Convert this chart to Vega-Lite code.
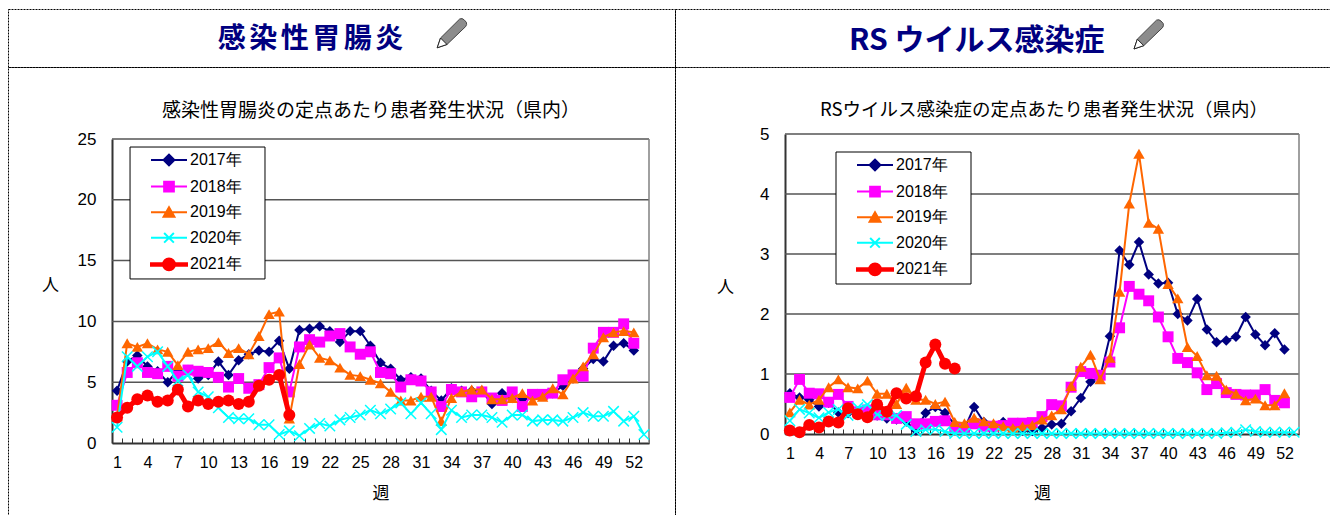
{"$schema":"https://vega.github.io/schema/vega-lite/v6.json","padding":{"left":7,"top":8,"right":0,"bottom":0},"background":"white","bounds":"flush","spacing":0,"columns":2,
"config":{"view":{"stroke":"#000","strokeDash":[2,1],"strokeWidth":1},"font":"Liberation Sans"},
"resolve":{"scale":{"color":"independent"}},
"datasets":{
"g":[
{"w":1,"s":"2017年","v":4.3},{"w":2,"s":"2017年","v":6.7},{"w":3,"s":"2017年","v":7.2},{"w":4,"s":"2017年","v":6.3},{"w":5,"s":"2017年","v":5.9},{"w":6,"s":"2017年","v":5.0},{"w":7,"s":"2017年","v":6.0},{"w":8,"s":"2017年","v":6.0},{"w":9,"s":"2017年","v":5.3},{"w":10,"s":"2017年","v":5.6},{"w":11,"s":"2017年","v":6.7},{"w":12,"s":"2017年","v":5.6},{"w":13,"s":"2017年","v":6.8},{"w":14,"s":"2017年","v":7.3},{"w":15,"s":"2017年","v":7.6},{"w":16,"s":"2017年","v":7.5},{"w":17,"s":"2017年","v":8.4},{"w":18,"s":"2017年","v":6.1},{"w":19,"s":"2017年","v":9.3},{"w":20,"s":"2017年","v":9.4},{"w":21,"s":"2017年","v":9.6},{"w":22,"s":"2017年","v":9.2},{"w":23,"s":"2017年","v":8.3},{"w":24,"s":"2017年","v":9.2},{"w":25,"s":"2017年","v":9.2},{"w":26,"s":"2017年","v":8.0},{"w":27,"s":"2017年","v":6.6},{"w":28,"s":"2017年","v":6.1},{"w":29,"s":"2017年","v":5.2},{"w":30,"s":"2017年","v":5.4},{"w":31,"s":"2017年","v":5.3},{"w":32,"s":"2017年","v":4.3},{"w":33,"s":"2017年","v":3.5},{"w":34,"s":"2017年","v":4.5},{"w":35,"s":"2017年","v":4.3},{"w":36,"s":"2017年","v":4.3},{"w":37,"s":"2017年","v":4.3},{"w":38,"s":"2017年","v":3.2},{"w":39,"s":"2017年","v":4.1},{"w":40,"s":"2017年","v":3.7},{"w":41,"s":"2017年","v":3.6},{"w":42,"s":"2017年","v":3.9},{"w":43,"s":"2017年","v":3.9},{"w":44,"s":"2017年","v":4.1},{"w":45,"s":"2017年","v":4.7},{"w":46,"s":"2017年","v":5.3},{"w":47,"s":"2017年","v":6.1},{"w":48,"s":"2017年","v":6.9},{"w":49,"s":"2017年","v":6.7},{"w":50,"s":"2017年","v":8.0},{"w":51,"s":"2017年","v":8.2},{"w":52,"s":"2017年","v":7.6},
{"w":1,"s":"2018年","v":3.1},{"w":2,"s":"2018年","v":5.8},{"w":3,"s":"2018年","v":6.6},{"w":4,"s":"2018年","v":5.8},{"w":5,"s":"2018年","v":5.7},{"w":6,"s":"2018年","v":6.3},{"w":7,"s":"2018年","v":5.5},{"w":8,"s":"2018年","v":6.0},{"w":9,"s":"2018年","v":5.9},{"w":10,"s":"2018年","v":5.8},{"w":11,"s":"2018年","v":5.4},{"w":12,"s":"2018年","v":4.6},{"w":13,"s":"2018年","v":5.3},{"w":14,"s":"2018年","v":4.5},{"w":15,"s":"2018年","v":4.8},{"w":16,"s":"2018年","v":6.2},{"w":17,"s":"2018年","v":7.0},{"w":18,"s":"2018年","v":4.2},{"w":19,"s":"2018年","v":7.9},{"w":20,"s":"2018年","v":8.5},{"w":21,"s":"2018年","v":8.3},{"w":22,"s":"2018年","v":8.8},{"w":23,"s":"2018年","v":9.0},{"w":24,"s":"2018年","v":7.9},{"w":25,"s":"2018年","v":7.3},{"w":26,"s":"2018年","v":7.5},{"w":27,"s":"2018年","v":5.8},{"w":28,"s":"2018年","v":5.7},{"w":29,"s":"2018年","v":4.6},{"w":30,"s":"2018年","v":5.2},{"w":31,"s":"2018年","v":5.1},{"w":32,"s":"2018年","v":4.2},{"w":33,"s":"2018年","v":3.0},{"w":34,"s":"2018年","v":4.4},{"w":35,"s":"2018年","v":4.2},{"w":36,"s":"2018年","v":3.8},{"w":37,"s":"2018年","v":4.2},{"w":38,"s":"2018年","v":3.7},{"w":39,"s":"2018年","v":3.5},{"w":40,"s":"2018年","v":4.2},{"w":41,"s":"2018年","v":3.0},{"w":42,"s":"2018年","v":4.0},{"w":43,"s":"2018年","v":4.0},{"w":44,"s":"2018年","v":4.1},{"w":45,"s":"2018年","v":5.2},{"w":46,"s":"2018年","v":5.6},{"w":47,"s":"2018年","v":5.5},{"w":48,"s":"2018年","v":7.8},{"w":49,"s":"2018年","v":9.1},{"w":50,"s":"2018年","v":9.1},{"w":51,"s":"2018年","v":9.8},{"w":52,"s":"2018年","v":8.2},
{"w":1,"s":"2019年","v":2.2},{"w":2,"s":"2019年","v":8.2},{"w":3,"s":"2019年","v":7.9},{"w":4,"s":"2019年","v":8.2},{"w":5,"s":"2019年","v":7.7},{"w":6,"s":"2019年","v":7.5},{"w":7,"s":"2019年","v":6.4},{"w":8,"s":"2019年","v":7.5},{"w":9,"s":"2019年","v":7.7},{"w":10,"s":"2019年","v":7.8},{"w":11,"s":"2019年","v":8.3},{"w":12,"s":"2019年","v":7.4},{"w":13,"s":"2019年","v":7.8},{"w":14,"s":"2019年","v":7.3},{"w":15,"s":"2019年","v":8.8},{"w":16,"s":"2019年","v":10.6},{"w":17,"s":"2019年","v":10.8},{"w":18,"s":"2019年","v":2.0},{"w":19,"s":"2019年","v":6.5},{"w":20,"s":"2019年","v":8.1},{"w":21,"s":"2019年","v":7.0},{"w":22,"s":"2019年","v":6.8},{"w":23,"s":"2019年","v":6.2},{"w":24,"s":"2019年","v":5.6},{"w":25,"s":"2019年","v":5.5},{"w":26,"s":"2019年","v":5.2},{"w":27,"s":"2019年","v":4.9},{"w":28,"s":"2019年","v":4.2},{"w":29,"s":"2019年","v":3.5},{"w":30,"s":"2019年","v":3.5},{"w":31,"s":"2019年","v":3.8},{"w":32,"s":"2019年","v":3.8},{"w":33,"s":"2019年","v":1.8},{"w":34,"s":"2019年","v":3.7},{"w":35,"s":"2019年","v":4.2},{"w":36,"s":"2019年","v":4.4},{"w":37,"s":"2019年","v":4.4},{"w":38,"s":"2019年","v":3.6},{"w":39,"s":"2019年","v":3.6},{"w":40,"s":"2019年","v":3.7},{"w":41,"s":"2019年","v":4.1},{"w":42,"s":"2019年","v":3.5},{"w":43,"s":"2019年","v":3.8},{"w":44,"s":"2019年","v":4.5},{"w":45,"s":"2019年","v":4.0},{"w":46,"s":"2019年","v":5.3},{"w":47,"s":"2019年","v":6.3},{"w":48,"s":"2019年","v":7.3},{"w":49,"s":"2019年","v":8.7},{"w":50,"s":"2019年","v":9.1},{"w":51,"s":"2019年","v":9.2},{"w":52,"s":"2019年","v":9.1},
{"w":1,"s":"2020年","v":1.3},{"w":2,"s":"2020年","v":7.1},{"w":3,"s":"2020年","v":6.3},{"w":4,"s":"2020年","v":7.1},{"w":5,"s":"2020年","v":7.5},{"w":6,"s":"2020年","v":6.3},{"w":7,"s":"2020年","v":5.1},{"w":8,"s":"2020年","v":5.6},{"w":9,"s":"2020年","v":4.2},{"w":10,"s":"2020年","v":3.8},{"w":11,"s":"2020年","v":2.9},{"w":12,"s":"2020年","v":2.1},{"w":13,"s":"2020年","v":2.0},{"w":14,"s":"2020年","v":2.0},{"w":15,"s":"2020年","v":1.5},{"w":16,"s":"2020年","v":1.5},{"w":17,"s":"2020年","v":0.7},{"w":18,"s":"2020年","v":1.0},{"w":19,"s":"2020年","v":0.6},{"w":20,"s":"2020年","v":1.2},{"w":21,"s":"2020年","v":1.6},{"w":22,"s":"2020年","v":1.4},{"w":23,"s":"2020年","v":1.9},{"w":24,"s":"2020年","v":2.1},{"w":25,"s":"2020年","v":2.3},{"w":26,"s":"2020年","v":2.7},{"w":27,"s":"2020年","v":2.4},{"w":28,"s":"2020年","v":2.8},{"w":29,"s":"2020年","v":3.3},{"w":30,"s":"2020年","v":2.4},{"w":31,"s":"2020年","v":3.3},{"w":32,"s":"2020年","v":2.4},{"w":33,"s":"2020年","v":1.1},{"w":34,"s":"2020年","v":2.7},{"w":35,"s":"2020年","v":2.1},{"w":36,"s":"2020年","v":2.3},{"w":37,"s":"2020年","v":2.3},{"w":38,"s":"2020年","v":2.1},{"w":39,"s":"2020年","v":1.7},{"w":40,"s":"2020年","v":2.3},{"w":41,"s":"2020年","v":2.3},{"w":42,"s":"2020年","v":1.8},{"w":43,"s":"2020年","v":1.9},{"w":44,"s":"2020年","v":1.9},{"w":45,"s":"2020年","v":1.8},{"w":46,"s":"2020年","v":2.1},{"w":47,"s":"2020年","v":2.5},{"w":48,"s":"2020年","v":2.2},{"w":49,"s":"2020年","v":2.2},{"w":50,"s":"2020年","v":2.6},{"w":51,"s":"2020年","v":1.8},{"w":52,"s":"2020年","v":2.2},{"w":53,"s":"2020年","v":0.7},
{"w":1,"s":"2021年","v":2.1},{"w":2,"s":"2021年","v":2.9},{"w":3,"s":"2021年","v":3.6},{"w":4,"s":"2021年","v":3.9},{"w":5,"s":"2021年","v":3.4},{"w":6,"s":"2021年","v":3.5},{"w":7,"s":"2021年","v":4.4},{"w":8,"s":"2021年","v":3.0},{"w":9,"s":"2021年","v":3.5},{"w":10,"s":"2021年","v":3.2},{"w":11,"s":"2021年","v":3.4},{"w":12,"s":"2021年","v":3.5},{"w":13,"s":"2021年","v":3.2},{"w":14,"s":"2021年","v":3.4},{"w":15,"s":"2021年","v":4.7},{"w":16,"s":"2021年","v":5.2},{"w":17,"s":"2021年","v":5.6},{"w":18,"s":"2021年","v":2.3}
],
"r":[
{"w":1,"s":"2017年","v":0.68},{"w":2,"s":"2017年","v":0.61},{"w":3,"s":"2017年","v":0.57},{"w":4,"s":"2017年","v":0.46},{"w":5,"s":"2017年","v":0.52},{"w":6,"s":"2017年","v":0.36},{"w":7,"s":"2017年","v":0.35},{"w":8,"s":"2017年","v":0.35},{"w":9,"s":"2017年","v":0.35},{"w":10,"s":"2017年","v":0.31},{"w":11,"s":"2017年","v":0.26},{"w":12,"s":"2017年","v":0.24},{"w":13,"s":"2017年","v":0.21},{"w":14,"s":"2017年","v":0.06},{"w":15,"s":"2017年","v":0.35},{"w":16,"s":"2017年","v":0.45},{"w":17,"s":"2017年","v":0.35},{"w":18,"s":"2017年","v":0.16},{"w":19,"s":"2017年","v":0.09},{"w":20,"s":"2017年","v":0.45},{"w":21,"s":"2017年","v":0.2},{"w":22,"s":"2017年","v":0.1},{"w":23,"s":"2017年","v":0.2},{"w":24,"s":"2017年","v":0.13},{"w":25,"s":"2017年","v":0.06},{"w":26,"s":"2017年","v":0.05},{"w":27,"s":"2017年","v":0.1},{"w":28,"s":"2017年","v":0.16},{"w":29,"s":"2017年","v":0.17},{"w":30,"s":"2017年","v":0.38},{"w":31,"s":"2017年","v":0.6},{"w":32,"s":"2017年","v":0.87},{"w":33,"s":"2017年","v":0.95},{"w":34,"s":"2017年","v":1.63},{"w":35,"s":"2017年","v":3.06},{"w":36,"s":"2017年","v":2.82},{"w":37,"s":"2017年","v":3.2},{"w":38,"s":"2017年","v":2.66},{"w":39,"s":"2017年","v":2.51},{"w":40,"s":"2017年","v":2.52},{"w":41,"s":"2017年","v":2.0},{"w":42,"s":"2017年","v":1.89},{"w":43,"s":"2017年","v":2.25},{"w":44,"s":"2017年","v":1.74},{"w":45,"s":"2017年","v":1.53},{"w":46,"s":"2017年","v":1.56},{"w":47,"s":"2017年","v":1.62},{"w":48,"s":"2017年","v":1.95},{"w":49,"s":"2017年","v":1.66},{"w":50,"s":"2017年","v":1.48},{"w":51,"s":"2017年","v":1.68},{"w":52,"s":"2017年","v":1.41},
{"w":1,"s":"2018年","v":0.61},{"w":2,"s":"2018年","v":0.91},{"w":3,"s":"2018年","v":0.68},{"w":4,"s":"2018年","v":0.67},{"w":5,"s":"2018年","v":0.53},{"w":6,"s":"2018年","v":0.66},{"w":7,"s":"2018年","v":0.46},{"w":8,"s":"2018年","v":0.37},{"w":9,"s":"2018年","v":0.4},{"w":10,"s":"2018年","v":0.32},{"w":11,"s":"2018年","v":0.32},{"w":12,"s":"2018年","v":0.26},{"w":13,"s":"2018年","v":0.29},{"w":14,"s":"2018年","v":0.17},{"w":15,"s":"2018年","v":0.17},{"w":16,"s":"2018年","v":0.21},{"w":17,"s":"2018年","v":0.22},{"w":18,"s":"2018年","v":0.11},{"w":19,"s":"2018年","v":0.09},{"w":20,"s":"2018年","v":0.17},{"w":21,"s":"2018年","v":0.13},{"w":22,"s":"2018年","v":0.13},{"w":23,"s":"2018年","v":0.14},{"w":24,"s":"2018年","v":0.18},{"w":25,"s":"2018年","v":0.18},{"w":26,"s":"2018年","v":0.19},{"w":27,"s":"2018年","v":0.29},{"w":28,"s":"2018年","v":0.49},{"w":29,"s":"2018年","v":0.47},{"w":30,"s":"2018年","v":0.78},{"w":31,"s":"2018年","v":1.04},{"w":32,"s":"2018年","v":1.01},{"w":33,"s":"2018年","v":0.98},{"w":34,"s":"2018年","v":1.2},{"w":35,"s":"2018年","v":1.77},{"w":36,"s":"2018年","v":2.46},{"w":37,"s":"2018年","v":2.33},{"w":38,"s":"2018年","v":2.22},{"w":39,"s":"2018年","v":1.95},{"w":40,"s":"2018年","v":1.62},{"w":41,"s":"2018年","v":1.26},{"w":42,"s":"2018年","v":1.19},{"w":43,"s":"2018年","v":1.02},{"w":44,"s":"2018年","v":0.74},{"w":45,"s":"2018年","v":0.84},{"w":46,"s":"2018年","v":0.69},{"w":47,"s":"2018年","v":0.66},{"w":48,"s":"2018年","v":0.65},{"w":49,"s":"2018年","v":0.65},{"w":50,"s":"2018年","v":0.74},{"w":51,"s":"2018年","v":0.56},{"w":52,"s":"2018年","v":0.52},
{"w":1,"s":"2019年","v":0.36},{"w":2,"s":"2019年","v":0.57},{"w":3,"s":"2019年","v":0.49},{"w":4,"s":"2019年","v":0.57},{"w":5,"s":"2019年","v":0.78},{"w":6,"s":"2019年","v":0.91},{"w":7,"s":"2019年","v":0.78},{"w":8,"s":"2019年","v":0.76},{"w":9,"s":"2019年","v":0.89},{"w":10,"s":"2019年","v":0.67},{"w":11,"s":"2019年","v":0.67},{"w":12,"s":"2019年","v":0.5},{"w":13,"s":"2019年","v":0.77},{"w":14,"s":"2019年","v":0.57},{"w":15,"s":"2019年","v":0.57},{"w":16,"s":"2019年","v":0.5},{"w":17,"s":"2019年","v":0.54},{"w":18,"s":"2019年","v":0.2},{"w":19,"s":"2019年","v":0.18},{"w":20,"s":"2019年","v":0.27},{"w":21,"s":"2019年","v":0.21},{"w":22,"s":"2019年","v":0.18},{"w":23,"s":"2019年","v":0.13},{"w":24,"s":"2019年","v":0.1},{"w":25,"s":"2019年","v":0.13},{"w":26,"s":"2019年","v":0.15},{"w":27,"s":"2019年","v":0.24},{"w":28,"s":"2019年","v":0.31},{"w":29,"s":"2019年","v":0.41},{"w":30,"s":"2019年","v":0.8},{"w":31,"s":"2019年","v":1.12},{"w":32,"s":"2019年","v":1.32},{"w":33,"s":"2019年","v":0.91},{"w":34,"s":"2019年","v":1.27},{"w":35,"s":"2019年","v":2.37},{"w":36,"s":"2019年","v":3.84},{"w":37,"s":"2019年","v":4.67},{"w":38,"s":"2019年","v":3.52},{"w":39,"s":"2019年","v":3.42},{"w":40,"s":"2019年","v":2.5},{"w":41,"s":"2019年","v":2.26},{"w":42,"s":"2019年","v":1.45},{"w":43,"s":"2019年","v":1.3},{"w":44,"s":"2019年","v":0.98},{"w":45,"s":"2019年","v":0.97},{"w":46,"s":"2019年","v":0.74},{"w":47,"s":"2019年","v":0.67},{"w":48,"s":"2019年","v":0.56},{"w":49,"s":"2019年","v":0.59},{"w":50,"s":"2019年","v":0.48},{"w":51,"s":"2019年","v":0.48},{"w":52,"s":"2019年","v":0.68},
{"w":1,"s":"2020年","v":0.22},{"w":2,"s":"2020年","v":0.41},{"w":3,"s":"2020年","v":0.35},{"w":4,"s":"2020年","v":0.27},{"w":5,"s":"2020年","v":0.36},{"w":6,"s":"2020年","v":0.41},{"w":7,"s":"2020年","v":0.31},{"w":8,"s":"2020年","v":0.44},{"w":9,"s":"2020年","v":0.49},{"w":10,"s":"2020年","v":0.32},{"w":11,"s":"2020年","v":0.31},{"w":12,"s":"2020年","v":0.31},{"w":13,"s":"2020年","v":0.16},{"w":14,"s":"2020年","v":0.04},{"w":15,"s":"2020年","v":0.07},{"w":16,"s":"2020年","v":0.08},{"w":17,"s":"2020年","v":0.04},{"w":18,"s":"2020年","v":0.01},{"w":19,"s":"2020年","v":0.01},{"w":20,"s":"2020年","v":0.01},{"w":21,"s":"2020年","v":0.01},{"w":22,"s":"2020年","v":0.01},{"w":23,"s":"2020年","v":0.01},{"w":24,"s":"2020年","v":0.01},{"w":25,"s":"2020年","v":0.01},{"w":26,"s":"2020年","v":0.01},{"w":27,"s":"2020年","v":0.01},{"w":28,"s":"2020年","v":0.01},{"w":29,"s":"2020年","v":0.01},{"w":30,"s":"2020年","v":0.01},{"w":31,"s":"2020年","v":0.01},{"w":32,"s":"2020年","v":0.01},{"w":33,"s":"2020年","v":0.01},{"w":34,"s":"2020年","v":0.01},{"w":35,"s":"2020年","v":0.01},{"w":36,"s":"2020年","v":0.01},{"w":37,"s":"2020年","v":0.01},{"w":38,"s":"2020年","v":0.01},{"w":39,"s":"2020年","v":0.01},{"w":40,"s":"2020年","v":0.01},{"w":41,"s":"2020年","v":0.01},{"w":42,"s":"2020年","v":0.01},{"w":43,"s":"2020年","v":0.01},{"w":44,"s":"2020年","v":0.01},{"w":45,"s":"2020年","v":0.01},{"w":46,"s":"2020年","v":0.02},{"w":47,"s":"2020年","v":0.03},{"w":48,"s":"2020年","v":0.07},{"w":49,"s":"2020年","v":0.04},{"w":50,"s":"2020年","v":0.03},{"w":51,"s":"2020年","v":0.03},{"w":52,"s":"2020年","v":0.03},{"w":53,"s":"2020年","v":0.03},
{"w":1,"s":"2021年","v":0.06},{"w":2,"s":"2021年","v":0.03},{"w":3,"s":"2021年","v":0.15},{"w":4,"s":"2021年","v":0.11},{"w":5,"s":"2021年","v":0.21},{"w":6,"s":"2021年","v":0.19},{"w":7,"s":"2021年","v":0.43},{"w":8,"s":"2021年","v":0.33},{"w":9,"s":"2021年","v":0.28},{"w":10,"s":"2021年","v":0.49},{"w":11,"s":"2021年","v":0.37},{"w":12,"s":"2021年","v":0.68},{"w":13,"s":"2021年","v":0.59},{"w":14,"s":"2021年","v":0.63},{"w":15,"s":"2021年","v":1.19},{"w":16,"s":"2021年","v":1.49},{"w":17,"s":"2021年","v":1.17},{"w":18,"s":"2021年","v":1.09}
]},
"concat":[
{"width":667,"height":58,"layer":[
{"data":{"values":[{"t":"感\u200a\u200a染\u200a\u200a性\u200a\u200a胃\u200a\u200a腸\u200a\u200a炎"}]},"mark":{"type":"text","font":"Noto Sans CJK JP","fontSize":28,"fontWeight":"bold","color":"#000080"},"encoding":{"text":{"field":"t"},"x":{"datum":0.4535,"scale":{"domain":[0,1]},"axis":null},"y":{"datum":0.54,"scale":{"domain":[0,1],"reverse":true},"axis":null}}},
{"data":{"values":[{"i":"pencil"}]},"mark":{"type":"point","filled":true,"fill":"#8c8c8c","stroke":"#444","strokeWidth":1,"opacity":1,"size":900,"shape":"M-1,1L-0.78,0.35L0.5,-0.92Q0.66,-1 0.8,-0.86L0.94,-0.7Q1,-0.55 0.9,-0.42L-0.35,0.78Z"},"encoding":{"x":{"datum":0.666},"y":{"datum":0.41}}},
{"data":{"values":[{"i":"tip"}]},"mark":{"type":"point","filled":true,"fill":"#fff","stroke":"#222","strokeWidth":1,"opacity":1,"size":900,"shape":"M-1,1L-0.78,0.35L-0.35,0.78Z"},"encoding":{"x":{"datum":0.666},"y":{"datum":0.41}}}
]},
{"width":656,"height":58,"layer":[
{"data":{"values":[{"t":"RS ウイルス感染症"}]},"mark":{"type":"text","font":"Noto Sans CJK JP","fontSize":30,"fontWeight":"bold","color":"#000080"},"encoding":{"text":{"field":"t"},"x":{"datum":0.46,"scale":{"domain":[0,1]},"axis":null},"y":{"datum":0.55,"scale":{"domain":[0,1],"reverse":true},"axis":null}}},
{"data":{"values":[{"i":"pencil"}]},"mark":{"type":"point","filled":true,"fill":"#8c8c8c","stroke":"#444","strokeWidth":1,"opacity":1,"size":900,"shape":"M-1,1L-0.78,0.35L0.5,-0.92Q0.66,-1 0.8,-0.86L0.94,-0.7Q1,-0.55 0.9,-0.42L-0.35,0.78Z"},"encoding":{"x":{"datum":0.7226},"y":{"datum":0.43}}},
{"data":{"values":[{"i":"tip"}]},"mark":{"type":"point","filled":true,"fill":"#fff","stroke":"#222","strokeWidth":1,"opacity":1,"size":900,"shape":"M-1,1L-0.78,0.35L-0.35,0.78Z"},"encoding":{"x":{"datum":0.7226},"y":{"datum":0.43}}}
]},
{"width":667,"height":449,"data":{"name":"g"},
"layer":[
{"data":{"values":[{"g":5},{"g":10},{"g":15},{"g":20},{"g":25}]},"mark":{"type":"rule","color":"#555","strokeWidth":1.5},"encoding":{
"x":{"datum":0.5,"type":"quantitative","scale":{"domain":[0.5,53.5],"nice":false,"zero":false,"range":[104,641]},"axis":{"title":"週","titleFontSize":17,"titleFont":"Noto Sans CJK JP","titleFontWeight":"normal","titleColor":"#000","titleY":42,"offset":-73,"domain":true,"domainColor":"#333","domainWidth":2,"ticks":true,"tickWidth":1,"tickColor":"#333","tickSize":-5,"grid":false,"values":[0.5,1.5,2.5,3.5,4.5,5.5,6.5,7.5,8.5,9.5,10.5,11.5,12.5,13.5,14.5,15.5,16.5,17.5,18.5,19.5,20.5,21.5,22.5,23.5,24.5,25.5,26.5,27.5,28.5,29.5,30.5,31.5,32.5,33.5,34.5,35.5,36.5,37.5,38.5,39.5,40.5,41.5,42.5,43.5,44.5,45.5,46.5,47.5,48.5,49.5,50.5,51.5,52.5,53.5],"labelExpr":"((datum.value-0.5)%3==0) ? (datum.value+0.5) : ''","labelOffset":5,"labelOverlap":false,"labelFontSize":16,"labelColor":"#000","labelPadding":16,"labelBound":false,"labelFlush":false}},
"x2":{"datum":53.5},
"y":{"field":"g","type":"quantitative","scale":{"domain":[0,25],"nice":false,"range":[376,72]},"axis":{"title":"人","titleAngle":0,"titleFontSize":17,"titleFont":"Noto Sans CJK JP","titleFontWeight":"normal","titleColor":"#000","titleX":-62,"titleY":227,"offset":-104,"domain":true,"domainColor":"#333","domainWidth":2,"ticks":false,"grid":false,"values":[0,5,10,15,20,25],"labelFontSize":17,"labelColor":"#000","labelPadding":16,"format":"d"}}}},
{"data":{"values":[{"f":"right"}]},"mark":{"type":"rule","color":"#808080","strokeWidth":1.5},"encoding":{
"x":{"datum":53.5,"type":"quantitative","axis":{"title":"週","titleFontSize":17,"titleFont":"Noto Sans CJK JP","titleFontWeight":"normal","titleColor":"#000","titleY":42,"offset":-73,"domain":true,"domainColor":"#333","domainWidth":2,"ticks":true,"tickWidth":1,"tickColor":"#333","tickSize":-5,"grid":false,"values":[0.5,1.5,2.5,3.5,4.5,5.5,6.5,7.5,8.5,9.5,10.5,11.5,12.5,13.5,14.5,15.5,16.5,17.5,18.5,19.5,20.5,21.5,22.5,23.5,24.5,25.5,26.5,27.5,28.5,29.5,30.5,31.5,32.5,33.5,34.5,35.5,36.5,37.5,38.5,39.5,40.5,41.5,42.5,43.5,44.5,45.5,46.5,47.5,48.5,49.5,50.5,51.5,52.5,53.5],"labelExpr":"((datum.value-0.5)%3==0) ? (datum.value+0.5) : ''","labelOffset":5,"labelOverlap":false,"labelFontSize":16,"labelColor":"#000","labelPadding":16,"labelBound":false,"labelFlush":false}},
"y":{"datum":0,"type":"quantitative","axis":{"title":"人","titleAngle":0,"titleFontSize":17,"titleFont":"Noto Sans CJK JP","titleFontWeight":"normal","titleColor":"#000","titleX":-62,"titleY":227,"offset":-104,"domain":true,"domainColor":"#333","domainWidth":2,"ticks":false,"grid":false,"values":[0,5,10,15,20,25],"labelFontSize":17,"labelColor":"#000","labelPadding":16,"format":"d"}},"y2":{"datum":25}}},
{"data":{"values":[{"t":"感染性胃腸炎の定点あたり患者発生状況（県内）"}]},"mark":{"type":"text","font":"Noto Sans CJK JP","fontSize":19,"color":"#000"},"encoding":{"text":{"field":"t"},
"x":{"datum":26.07,"type":"quantitative","axis":{"title":"週","titleFontSize":17,"titleFont":"Noto Sans CJK JP","titleFontWeight":"normal","titleColor":"#000","titleY":42,"offset":-73,"domain":true,"domainColor":"#333","domainWidth":2,"ticks":true,"tickWidth":1,"tickColor":"#333","tickSize":-5,"grid":false,"values":[0.5,1.5,2.5,3.5,4.5,5.5,6.5,7.5,8.5,9.5,10.5,11.5,12.5,13.5,14.5,15.5,16.5,17.5,18.5,19.5,20.5,21.5,22.5,23.5,24.5,25.5,26.5,27.5,28.5,29.5,30.5,31.5,32.5,33.5,34.5,35.5,36.5,37.5,38.5,39.5,40.5,41.5,42.5,43.5,44.5,45.5,46.5,47.5,48.5,49.5,50.5,51.5,52.5,53.5],"labelExpr":"((datum.value-0.5)%3==0) ? (datum.value+0.5) : ''","labelOffset":5,"labelOverlap":false,"labelFontSize":16,"labelColor":"#000","labelPadding":16,"labelBound":false,"labelFlush":false}},
"y":{"datum":27.3,"type":"quantitative","axis":{"title":"人","titleAngle":0,"titleFontSize":17,"titleFont":"Noto Sans CJK JP","titleFontWeight":"normal","titleColor":"#000","titleX":-62,"titleY":227,"offset":-104,"domain":true,"domainColor":"#333","domainWidth":2,"ticks":false,"grid":false,"values":[0,5,10,15,20,25],"labelFontSize":17,"labelColor":"#000","labelPadding":16,"format":"d"}}}},
{"encoding":{
"x":{"field":"w","type":"quantitative","axis":{"title":"週","titleFontSize":17,"titleFont":"Noto Sans CJK JP","titleFontWeight":"normal","titleColor":"#000","titleY":42,"offset":-73,"domain":true,"domainColor":"#333","domainWidth":2,"ticks":true,"tickWidth":1,"tickColor":"#333","tickSize":-5,"grid":false,"values":[0.5,1.5,2.5,3.5,4.5,5.5,6.5,7.5,8.5,9.5,10.5,11.5,12.5,13.5,14.5,15.5,16.5,17.5,18.5,19.5,20.5,21.5,22.5,23.5,24.5,25.5,26.5,27.5,28.5,29.5,30.5,31.5,32.5,33.5,34.5,35.5,36.5,37.5,38.5,39.5,40.5,41.5,42.5,43.5,44.5,45.5,46.5,47.5,48.5,49.5,50.5,51.5,52.5,53.5],"labelExpr":"((datum.value-0.5)%3==0) ? (datum.value+0.5) : ''","labelOffset":5,"labelOverlap":false,"labelFontSize":16,"labelColor":"#000","labelPadding":16,"labelBound":false,"labelFlush":false}},
"y":{"field":"v","type":"quantitative","axis":{"title":"人","titleAngle":0,"titleFontSize":17,"titleFont":"Noto Sans CJK JP","titleFontWeight":"normal","titleColor":"#000","titleX":-62,"titleY":227,"offset":-104,"domain":true,"domainColor":"#333","domainWidth":2,"ticks":false,"grid":false,"values":[0,5,10,15,20,25],"labelFontSize":17,"labelColor":"#000","labelPadding":16,"format":"d"}}
},"layer":[
{"transform":[{"filter":"datum.s=='2017年'"}],"encoding":{
"color":{"field":"s","type":"nominal","scale":{"domain":["2017年","2018年","2019年","2020年","2021年"],"range":["#000080","#FF00FF","#FF6600","#00FFFF","#FF0000"]},"legend":{"orient":"none","legendX":122,"legendY":80,"title":null,"padding":5,"rowPadding":7.6,"labelFontSize":16,"labelColor":"#000","symbolSize":100,"symbolOffset":26,"labelOffset":13,"encode":{"symbols":{"update":{"size":{"value":1296},"shape":{"signal":"datum.value=='2017年'?'M-1,0H1M-.3,0L0,-.3L.3,0L0,.3Z':datum.value=='2018年'?'M-1,0H1M-.27,-.27H.27V.27H-.27Z':datum.value=='2019年'?'M-1,0H1M-.3,.25L0,-.27L.3,.25Z':datum.value=='2020年'?'M-1,0H1M-.27,-.27L.27,.27M-.27,.27L.27,-.27':'M-1,-.07H1V.07H-1ZM-.33,0A.33,.33 0 1,1 .33,0A.33,.33 0 1,1 -.33,0Z'"},"fill":{"signal":"datum.value=='2017年'?'#000080':datum.value=='2018年'?'#FF00FF':datum.value=='2019年'?'#FF6600':datum.value=='2020年'?'#00FFFF':'#FF0000'"},"stroke":{"signal":"datum.value=='2017年'?'#000080':datum.value=='2018年'?'#FF00FF':datum.value=='2019年'?'#FF6600':datum.value=='2020年'?'#00FFFF':'#FF0000'"},"strokeWidth":{"signal":"datum.value=='2021年'?2:2"},"opacity":{"value":1}}}}}}},"layer":[{"mark":{"type":"line","strokeWidth":2}},{"mark":{"type":"point","shape":"diamond","filled":true,"size":110,"opacity":1}}]},
{"transform":[{"filter":"datum.s=='2018年'"}],"encoding":{"color":{"field":"s","type":"nominal"}},"layer":[{"mark":{"type":"line","strokeWidth":2}},{"mark":{"type":"point","shape":"square","filled":true,"size":120,"opacity":1}}]},
{"transform":[{"filter":"datum.s=='2019年'"}],"encoding":{"color":{"field":"s","type":"nominal"}},"layer":[{"mark":{"type":"line","strokeWidth":2}},{"mark":{"type":"point","shape":"triangle-up","filled":true,"size":130,"opacity":1}}]},
{"transform":[{"filter":"datum.s=='2020年'"}],"encoding":{"color":{"field":"s","type":"nominal"}},"layer":[{"mark":{"type":"line","strokeWidth":2}},{"mark":{"type":"point","shape":"M-1,-1L1,1M-1,1L1,-1","filled":true,"stroke":"#00FFFF","strokeWidth":1.5,"size":110,"opacity":1}}]},
{"transform":[{"filter":"datum.s=='2021年'"}],"encoding":{"color":{"field":"s","type":"nominal"}},"layer":[{"mark":{"type":"line","strokeWidth":5,"strokeCap":"round"}},{"mark":{"type":"point","shape":"circle","filled":true,"size":144,"opacity":1}}]}
]},
{"data":{"values":[{"f":"legend box"}]},"mark":{"type":"rect","fill":"#fff","stroke":"#000","strokeWidth":1},"encoding":{
"x":{"datum":2.28,"type":"quantitative","axis":{"title":"週","titleFontSize":17,"titleFont":"Noto Sans CJK JP","titleFontWeight":"normal","titleColor":"#000","titleY":42,"offset":-73,"domain":true,"domainColor":"#333","domainWidth":2,"ticks":true,"tickWidth":1,"tickColor":"#333","tickSize":-5,"grid":false,"values":[0.5,1.5,2.5,3.5,4.5,5.5,6.5,7.5,8.5,9.5,10.5,11.5,12.5,13.5,14.5,15.5,16.5,17.5,18.5,19.5,20.5,21.5,22.5,23.5,24.5,25.5,26.5,27.5,28.5,29.5,30.5,31.5,32.5,33.5,34.5,35.5,36.5,37.5,38.5,39.5,40.5,41.5,42.5,43.5,44.5,45.5,46.5,47.5,48.5,49.5,50.5,51.5,52.5,53.5],"labelExpr":"((datum.value-0.5)%3==0) ? (datum.value+0.5) : ''","labelOffset":5,"labelOverlap":false,"labelFontSize":16,"labelColor":"#000","labelPadding":16,"labelBound":false,"labelFlush":false}},"x2":{"datum":15.6},
"y":{"datum":24.34,"type":"quantitative","axis":{"title":"人","titleAngle":0,"titleFontSize":17,"titleFont":"Noto Sans CJK JP","titleFontWeight":"normal","titleColor":"#000","titleX":-62,"titleY":227,"offset":-104,"domain":true,"domainColor":"#333","domainWidth":2,"ticks":false,"grid":false,"values":[0,5,10,15,20,25],"labelFontSize":17,"labelColor":"#000","labelPadding":16,"format":"d"}},"y2":{"datum":13.49}}}
]},
{"width":656,"height":449,"data":{"name":"r"},
"layer":[
{"data":{"values":[{"g":1},{"g":2},{"g":3},{"g":4},{"g":5}]},"mark":{"type":"rule","color":"#555","strokeWidth":1.5},"encoding":{
"x":{"datum":0.5,"type":"quantitative","scale":{"domain":[0.5,53.5],"nice":false,"zero":false,"range":[110,624]},"axis":{"title":"週","titleFontSize":17,"titleFont":"Noto Sans CJK JP","titleFontWeight":"normal","titleColor":"#000","titleY":51,"offset":-82,"domain":true,"domainColor":"#333","domainWidth":2,"ticks":true,"tickWidth":1,"tickColor":"#333","tickSize":-5,"grid":false,"values":[0.5,1.5,2.5,3.5,4.5,5.5,6.5,7.5,8.5,9.5,10.5,11.5,12.5,13.5,14.5,15.5,16.5,17.5,18.5,19.5,20.5,21.5,22.5,23.5,24.5,25.5,26.5,27.5,28.5,29.5,30.5,31.5,32.5,33.5,34.5,35.5,36.5,37.5,38.5,39.5,40.5,41.5,42.5,43.5,44.5,45.5,46.5,47.5,48.5,49.5,50.5,51.5,52.5,53.5],"labelExpr":"((datum.value-0.5)%3==0) ? (datum.value+0.5) : ''","labelOffset":5,"labelOverlap":false,"labelFontSize":16,"labelColor":"#000","labelPadding":16,"labelBound":false,"labelFlush":false}},
"x2":{"datum":53.5},
"y":{"field":"g","type":"quantitative","scale":{"domain":[0,5],"nice":false,"range":[367,67]},"axis":{"title":"人","titleAngle":0,"titleFontSize":17,"titleFont":"Noto Sans CJK JP","titleFontWeight":"normal","titleColor":"#000","titleX":-60,"titleY":229,"offset":-110,"domain":true,"domainColor":"#333","domainWidth":2,"ticks":false,"grid":false,"values":[0,1,2,3,4,5],"labelFontSize":17,"labelColor":"#000","labelPadding":16,"format":"d"}}}},
{"data":{"values":[{"f":"right"}]},"mark":{"type":"rule","color":"#808080","strokeWidth":1.5},"encoding":{
"x":{"datum":53.5,"type":"quantitative","axis":{"title":"週","titleFontSize":17,"titleFont":"Noto Sans CJK JP","titleFontWeight":"normal","titleColor":"#000","titleY":51,"offset":-82,"domain":true,"domainColor":"#333","domainWidth":2,"ticks":true,"tickWidth":1,"tickColor":"#333","tickSize":-5,"grid":false,"values":[0.5,1.5,2.5,3.5,4.5,5.5,6.5,7.5,8.5,9.5,10.5,11.5,12.5,13.5,14.5,15.5,16.5,17.5,18.5,19.5,20.5,21.5,22.5,23.5,24.5,25.5,26.5,27.5,28.5,29.5,30.5,31.5,32.5,33.5,34.5,35.5,36.5,37.5,38.5,39.5,40.5,41.5,42.5,43.5,44.5,45.5,46.5,47.5,48.5,49.5,50.5,51.5,52.5,53.5],"labelExpr":"((datum.value-0.5)%3==0) ? (datum.value+0.5) : ''","labelOffset":5,"labelOverlap":false,"labelFontSize":16,"labelColor":"#000","labelPadding":16,"labelBound":false,"labelFlush":false}},
"y":{"datum":0,"type":"quantitative","axis":{"title":"人","titleAngle":0,"titleFontSize":17,"titleFont":"Noto Sans CJK JP","titleFontWeight":"normal","titleColor":"#000","titleX":-60,"titleY":229,"offset":-110,"domain":true,"domainColor":"#333","domainWidth":2,"ticks":false,"grid":false,"values":[0,1,2,3,4,5],"labelFontSize":17,"labelColor":"#000","labelPadding":16,"format":"d"}},"y2":{"datum":5}}},
{"data":{"values":[{"t":"RSウイルス感染症の定点あたり患者発生状況（県内）"}]},"mark":{"type":"text","font":"Noto Sans CJK JP","fontSize":18.5,"color":"#000"},"encoding":{"text":{"field":"t"},
"x":{"datum":27.2,"type":"quantitative","axis":{"title":"週","titleFontSize":17,"titleFont":"Noto Sans CJK JP","titleFontWeight":"normal","titleColor":"#000","titleY":51,"offset":-82,"domain":true,"domainColor":"#333","domainWidth":2,"ticks":true,"tickWidth":1,"tickColor":"#333","tickSize":-5,"grid":false,"values":[0.5,1.5,2.5,3.5,4.5,5.5,6.5,7.5,8.5,9.5,10.5,11.5,12.5,13.5,14.5,15.5,16.5,17.5,18.5,19.5,20.5,21.5,22.5,23.5,24.5,25.5,26.5,27.5,28.5,29.5,30.5,31.5,32.5,33.5,34.5,35.5,36.5,37.5,38.5,39.5,40.5,41.5,42.5,43.5,44.5,45.5,46.5,47.5,48.5,49.5,50.5,51.5,52.5,53.5],"labelExpr":"((datum.value-0.5)%3==0) ? (datum.value+0.5) : ''","labelOffset":5,"labelOverlap":false,"labelFontSize":16,"labelColor":"#000","labelPadding":16,"labelBound":false,"labelFlush":false}},
"y":{"datum":5.4,"type":"quantitative","axis":{"title":"人","titleAngle":0,"titleFontSize":17,"titleFont":"Noto Sans CJK JP","titleFontWeight":"normal","titleColor":"#000","titleX":-60,"titleY":229,"offset":-110,"domain":true,"domainColor":"#333","domainWidth":2,"ticks":false,"grid":false,"values":[0,1,2,3,4,5],"labelFontSize":17,"labelColor":"#000","labelPadding":16,"format":"d"}}}},
{"encoding":{
"x":{"field":"w","type":"quantitative","axis":{"title":"週","titleFontSize":17,"titleFont":"Noto Sans CJK JP","titleFontWeight":"normal","titleColor":"#000","titleY":51,"offset":-82,"domain":true,"domainColor":"#333","domainWidth":2,"ticks":true,"tickWidth":1,"tickColor":"#333","tickSize":-5,"grid":false,"values":[0.5,1.5,2.5,3.5,4.5,5.5,6.5,7.5,8.5,9.5,10.5,11.5,12.5,13.5,14.5,15.5,16.5,17.5,18.5,19.5,20.5,21.5,22.5,23.5,24.5,25.5,26.5,27.5,28.5,29.5,30.5,31.5,32.5,33.5,34.5,35.5,36.5,37.5,38.5,39.5,40.5,41.5,42.5,43.5,44.5,45.5,46.5,47.5,48.5,49.5,50.5,51.5,52.5,53.5],"labelExpr":"((datum.value-0.5)%3==0) ? (datum.value+0.5) : ''","labelOffset":5,"labelOverlap":false,"labelFontSize":16,"labelColor":"#000","labelPadding":16,"labelBound":false,"labelFlush":false}},
"y":{"field":"v","type":"quantitative","axis":{"title":"人","titleAngle":0,"titleFontSize":17,"titleFont":"Noto Sans CJK JP","titleFontWeight":"normal","titleColor":"#000","titleX":-60,"titleY":229,"offset":-110,"domain":true,"domainColor":"#333","domainWidth":2,"ticks":false,"grid":false,"values":[0,1,2,3,4,5],"labelFontSize":17,"labelColor":"#000","labelPadding":16,"format":"d"}}
},"layer":[
{"transform":[{"filter":"datum.s=='2017年'"}],"encoding":{
"color":{"field":"s","type":"nominal","scale":{"domain":["2017年","2018年","2019年","2020年","2021年"],"range":["#000080","#FF00FF","#FF6600","#00FFFF","#FF0000"]},"legend":{"orient":"none","legendX":161,"legendY":85,"title":null,"padding":5,"rowPadding":7.6,"labelFontSize":16,"labelColor":"#000","symbolSize":100,"symbolOffset":26,"labelOffset":13,"encode":{"symbols":{"update":{"size":{"value":1296},"shape":{"signal":"datum.value=='2017年'?'M-1,0H1M-.3,0L0,-.3L.3,0L0,.3Z':datum.value=='2018年'?'M-1,0H1M-.27,-.27H.27V.27H-.27Z':datum.value=='2019年'?'M-1,0H1M-.3,.25L0,-.27L.3,.25Z':datum.value=='2020年'?'M-1,0H1M-.27,-.27L.27,.27M-.27,.27L.27,-.27':'M-1,-.07H1V.07H-1ZM-.33,0A.33,.33 0 1,1 .33,0A.33,.33 0 1,1 -.33,0Z'"},"fill":{"signal":"datum.value=='2017年'?'#000080':datum.value=='2018年'?'#FF00FF':datum.value=='2019年'?'#FF6600':datum.value=='2020年'?'#00FFFF':'#FF0000'"},"stroke":{"signal":"datum.value=='2017年'?'#000080':datum.value=='2018年'?'#FF00FF':datum.value=='2019年'?'#FF6600':datum.value=='2020年'?'#00FFFF':'#FF0000'"},"strokeWidth":{"signal":"datum.value=='2021年'?2:2"},"opacity":{"value":1}}}}}}},"layer":[{"mark":{"type":"line","strokeWidth":2}},{"mark":{"type":"point","shape":"diamond","filled":true,"size":110,"opacity":1}}]},
{"transform":[{"filter":"datum.s=='2018年'"}],"encoding":{"color":{"field":"s","type":"nominal"}},"layer":[{"mark":{"type":"line","strokeWidth":2}},{"mark":{"type":"point","shape":"square","filled":true,"size":120,"opacity":1}}]},
{"transform":[{"filter":"datum.s=='2019年'"}],"encoding":{"color":{"field":"s","type":"nominal"}},"layer":[{"mark":{"type":"line","strokeWidth":2}},{"mark":{"type":"point","shape":"triangle-up","filled":true,"size":130,"opacity":1}}]},
{"transform":[{"filter":"datum.s=='2020年'"}],"encoding":{"color":{"field":"s","type":"nominal"}},"layer":[{"mark":{"type":"line","strokeWidth":2}},{"mark":{"type":"point","shape":"M-1,-1L1,1M-1,1L1,-1","filled":true,"stroke":"#00FFFF","strokeWidth":1.5,"size":110,"opacity":1}}]},
{"transform":[{"filter":"datum.s=='2021年'"}],"encoding":{"color":{"field":"s","type":"nominal"}},"layer":[{"mark":{"type":"line","strokeWidth":5,"strokeCap":"round"}},{"mark":{"type":"point","shape":"circle","filled":true,"size":144,"opacity":1}}]}
]},
{"data":{"values":[{"f":"legend box"}]},"mark":{"type":"rect","fill":"#fff","stroke":"#000","strokeWidth":1},"encoding":{
"x":{"datum":5.76,"type":"quantitative","axis":{"title":"週","titleFontSize":17,"titleFont":"Noto Sans CJK JP","titleFontWeight":"normal","titleColor":"#000","titleY":51,"offset":-82,"domain":true,"domainColor":"#333","domainWidth":2,"ticks":true,"tickWidth":1,"tickColor":"#333","tickSize":-5,"grid":false,"values":[0.5,1.5,2.5,3.5,4.5,5.5,6.5,7.5,8.5,9.5,10.5,11.5,12.5,13.5,14.5,15.5,16.5,17.5,18.5,19.5,20.5,21.5,22.5,23.5,24.5,25.5,26.5,27.5,28.5,29.5,30.5,31.5,32.5,33.5,34.5,35.5,36.5,37.5,38.5,39.5,40.5,41.5,42.5,43.5,44.5,45.5,46.5,47.5,48.5,49.5,50.5,51.5,52.5,53.5],"labelExpr":"((datum.value-0.5)%3==0) ? (datum.value+0.5) : ''","labelOffset":5,"labelOverlap":false,"labelFontSize":16,"labelColor":"#000","labelPadding":16,"labelBound":false,"labelFlush":false}},"x2":{"datum":19.68},
"y":{"datum":4.7,"type":"quantitative","axis":{"title":"人","titleAngle":0,"titleFontSize":17,"titleFont":"Noto Sans CJK JP","titleFontWeight":"normal","titleColor":"#000","titleX":-60,"titleY":229,"offset":-110,"domain":true,"domainColor":"#333","domainWidth":2,"ticks":false,"grid":false,"values":[0,1,2,3,4,5],"labelFontSize":17,"labelColor":"#000","labelPadding":16,"format":"d"}},"y2":{"datum":2.5}}}
]}
]}
